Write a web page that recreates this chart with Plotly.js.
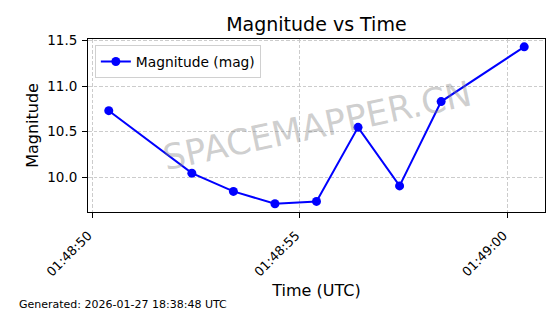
<!DOCTYPE html>
<html>
<head>
<meta charset="utf-8">
<script src="https://cdn.plot.ly/plotly-3.0.1.min.js"></script>
<style>html,body{margin:0;padding:0;background:#fff;}#chart{width:560px;height:314px;}</style>
</head>
<body>
<div id="chart"></div>
<script>
const times = [
  '2026-01-27 01:48:50.4', '2026-01-27 01:48:52.4', '2026-01-27 01:48:53.4',
  '2026-01-27 01:48:54.4', '2026-01-27 01:48:55.4', '2026-01-27 01:48:56.4',
  '2026-01-27 01:48:57.4', '2026-01-27 01:48:58.4', '2026-01-27 01:49:00.4'
];
const magnitudes = [10.73, 10.045, 9.845, 9.71, 9.735, 10.547, 9.905, 10.83, 11.43];
const seriesName = 'Magnitude (mag)';
const titleText = 'Magnitude vs Time';
const xLabel = 'Time (UTC)';
const yLabel = 'Magnitude';
const watermark = 'SPACEMAPPER.CN';
const footer = 'Generated: 2026-01-27 18:38:48 UTC';
const yTicks = [10.0, 10.5, 11.0, 11.5];

const font = 'DejaVu Sans, sans-serif';
const trace = {
  x: times, y: magnitudes, type: 'scatter', mode: 'lines+markers',
  name: seriesName,
  line: {color: '#0000ff', width: 2},
  marker: {color: '#0000ff', size: 9}
};
const grid = {showgrid: true, gridcolor: '#cccccc', griddash: '3.5px,2px', gridwidth: 1};
const layout = {
  width: 560, height: 314,
  margin: {l: 88, r: 15, t: 39, b: 102},
  paper_bgcolor: '#fff', plot_bgcolor: '#fff',
  font: {family: font, color: '#000', size: 13},
  title: {text: titleText, font: {size: 19, family: font}, x: 0.565, xanchor: 'center', y: 0.924, yanchor: 'middle'},
  showlegend: true,
  legend: {x: 0.015, y: 0.965, xanchor: 'left', yanchor: 'top', bgcolor: 'rgba(255,255,255,0.8)',
           bordercolor: '#d0d0d0', borderwidth: 1, font: {size: 13.8, family: font}},
  xaxis: Object.assign({
    type: 'date', range: ['2026-01-27 01:48:49.9', '2026-01-27 01:49:00.9'],
    tick0: '2026-01-27 01:48:50', dtick: 5000, tickformat: '%H:%M:%S',
    tickangle: -45, ticks: 'outside', ticklen: 5, tickcolor: '#000',
    ticklabelstandoff: 5, ticklabelshift: -4,
    showline: true, linecolor: '#000', linewidth: 1, mirror: true,
    zeroline: false, tickfont: {size: 12.8, family: font},
    title: {text: xLabel, font: {size: 16, family: font}, standoff: 6}
  }, grid),
  yaxis: Object.assign({
    range: [9.619, 11.516], tickvals: yTicks, ticktext: yTicks.map(v => v.toFixed(1)),
    ticks: 'outside', ticklen: 5, tickcolor: '#000', ticklabelstandoff: 2,
    showline: true, linecolor: '#000', linewidth: 1, mirror: true,
    zeroline: false, tickfont: {size: 13.5, family: font},
    title: {text: yLabel, font: {size: 16, family: font}, standoff: 4}
  }, grid),
  annotations: [
    {text: watermark, xref: 'paper', yref: 'paper', x: 0.5, y: 0.5, showarrow: false,
     textangle: -12, font: {size: 35, family: font, color: 'rgba(128,128,128,0.38)'}},
    {text: footer, xref: 'paper', yref: 'paper', x: -0.156, y: -0.534, xanchor: 'left', yanchor: 'middle',
     showarrow: false, font: {size: 11, family: font, color: '#000'}}
  ]
};
Plotly.newPlot('chart', [trace], layout, {displayModeBar: false, staticPlot: true});
</script>
</body>
</html>
